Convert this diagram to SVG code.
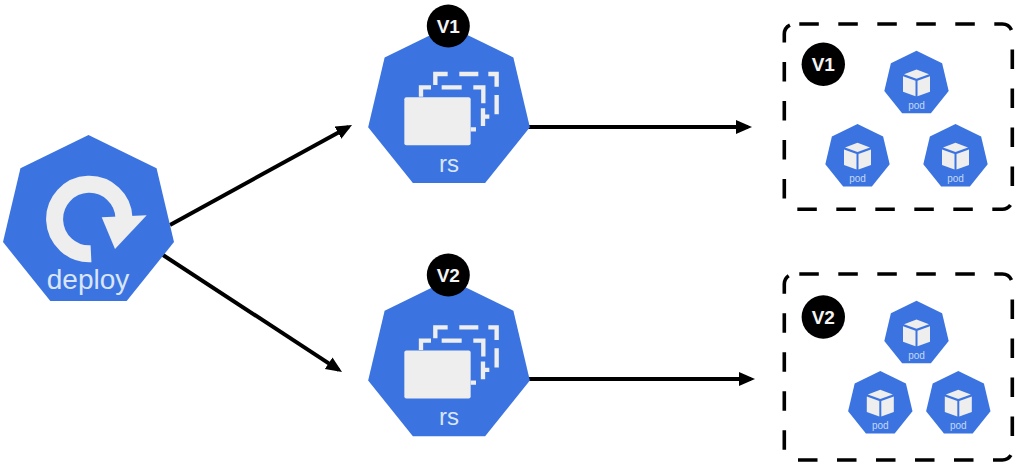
<svg xmlns="http://www.w3.org/2000/svg" width="1032" height="474" viewBox="0 0 1032 474">
<style>
text{font-family:"Liberation Sans",Arial,sans-serif;text-anchor:middle}
.blue{fill:#3b74e0}
.ic{fill:#eeeeee}
.lbl{fill:#d9e5f8}
.pod{font-size:10px;fill:#c4d8f6}
.dot{fill:#000}
.v{fill:#f4f4f4;font-weight:bold;font-size:19px}
.box{fill:none;stroke:#000;stroke-width:3.6;stroke-dasharray:19.5 19.5}
.link{fill:none;stroke:#000;stroke-width:4;marker-end:url(#arrow)}
.stub{fill:none;stroke:#eeeeee;stroke-width:13}
</style>
<defs>
<marker id="arrow" markerUnits="userSpaceOnUse" markerWidth="18" markerHeight="16" refX="12" refY="7" orient="auto"><path d="M0,0L16,7L0,14z" fill="#000"/></marker>
<polygon id="hept" points="0,0 41,20 51.5,64.5 23,100 -23,100 -51.5,64.5 -41,20"/>
<g id="cube" class="ic">
<path d="M0,18.7L12.5,23.5L0,28L-12.5,23.5z"/>
<path d="M-13.5,25.5L-1,30V45.5L-13.5,41z"/>
<path d="M13.5,25.5L1,30V45.5L13.5,41z"/>
</g>
<g id="rsicon" transform="scale(.3333)">
<rect class="ic" x="133" y="292" width="199" height="144" rx="6"/>
<path class="stub" d="M332,388H348M369,350H388M369,378V325M370,310V262H340M305,262H245M213,262H183V290M410,343V285M410,260V222H385M355,222H298M263,222H226V255"/>
</g>
</defs>

<g id="connectors">
<path class="link" d="M170,225L348.5,126.9"/>
<path class="link" d="M163,255L338.7,369.8"/>
<path class="link" d="M527,127H748"/>
<path class="link" d="M527,379H751"/>
</g>

<g id="deploy">
<use href="#hept" class="blue" transform="translate(88.5,135) scale(1.66)"/>
<path d="M91,253.7A34.7,34.7 0 1 1 124,218" fill="none" stroke="#eeeeee" stroke-width="17"/>
<path class="ic" d="M101.7,217.3L146.7,215.3L115,249z"/>
<text class="lbl" x="88" y="289" font-size="28">deploy</text>
</g>

<g id="rs-v1">
<use href="#hept" class="blue" transform="translate(449,26) scale(1.57)"/>
<use href="#rsicon" transform="translate(360,0)"/>
<text class="lbl" x="449" y="172" font-size="24">rs</text>
<circle class="dot" cx="448.3" cy="26" r="21.5"/>
<text class="v" x="448.3" y="33">V1</text>
</g>

<g id="rs-v2">
<use href="#hept" class="blue" transform="translate(449,279.3) scale(1.57)"/>
<use href="#rsicon" transform="translate(360,253.3)"/>
<text class="lbl" x="449" y="425" font-size="24">rs</text>
<circle class="dot" cx="448.3" cy="275" r="21.5"/>
<text class="v" x="448.3" y="282">V2</text>
</g>

<g id="group-v1">
<path class="box" d="M799.3,24H1002.3A10,10 0 0 1 1012.3,34V199.3A10,10 0 0 1 1002.3,209.3H794.3A10,10 0 0 1 784.3,199.3V34A10,10 0 0 1 794.3,24z"/>
<circle class="dot" cx="823.3" cy="64.3" r="21.7"/>
<text class="v" x="823.3" y="71">V1</text>
</g>
<g id="pod-v1-a"><use href="#hept" class="blue" transform="translate(916.5,50.7) scale(.625)"/><use href="#cube" transform="translate(916.5,50.7)"/><text class="pod" x="916.5" y="109">pod</text></g>
<g id="pod-v1-b"><use href="#hept" class="blue" transform="translate(857.5,124) scale(.625)"/><use href="#cube" transform="translate(857.5,124)"/><text class="pod" x="857.5" y="182">pod</text></g>
<g id="pod-v1-c"><use href="#hept" class="blue" transform="translate(955.5,124) scale(.625)"/><use href="#cube" transform="translate(955.5,124)"/><text class="pod" x="955.5" y="182">pod</text></g>

<g id="group-v2">
<path class="box" d="M799.3,274H1002.3A10,10 0 0 1 1012.3,284V450A10,10 0 0 1 1002.3,460H794.3A10,10 0 0 1 784.3,450V284A10,10 0 0 1 794.3,274z"/>
<circle class="dot" cx="823.3" cy="317" r="21.7"/>
<text class="v" x="823.3" y="323.7">V2</text>
</g>
<g id="pod-v2-a"><use href="#hept" class="blue" transform="translate(916.5,300.7) scale(.625)"/><use href="#cube" transform="translate(916.5,300.7)"/><text class="pod" x="916.5" y="359">pod</text></g>
<g id="pod-v2-b"><use href="#hept" class="blue" transform="translate(880.3,371) scale(.625)"/><use href="#cube" transform="translate(880.3,371)"/><text class="pod" x="880.3" y="429">pod</text></g>
<g id="pod-v2-c"><use href="#hept" class="blue" transform="translate(958.3,371) scale(.625)"/><use href="#cube" transform="translate(958.3,371)"/><text class="pod" x="958.3" y="429">pod</text></g>
</svg>
